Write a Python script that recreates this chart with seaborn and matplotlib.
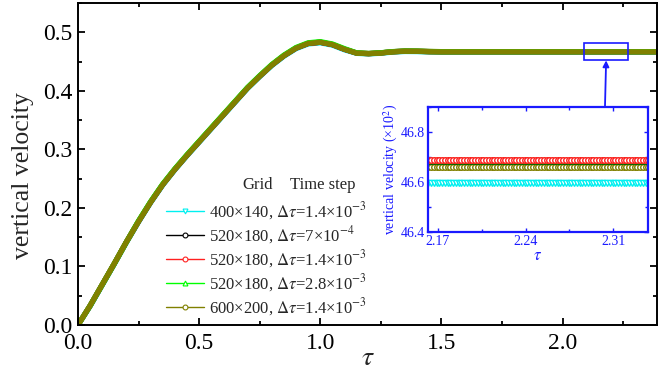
import numpy as np
import pandas as pd
import matplotlib
matplotlib.use("Agg")
import matplotlib.pyplot as plt
from matplotlib.lines import Line2D
from matplotlib.patches import Rectangle
from matplotlib.ticker import MultipleLocator
import seaborn as sns

sns.set_theme(style="ticks")
plt.rcParams["font.family"] = ["Liberation Serif", "DejaVu Serif"]
plt.rcParams["mathtext.fontset"] = "stix"

# ---- data: vertical velocity of the droplet centroid versus time tau ----
tau = [0.00, 0.05, 0.10, 0.15, 0.20, 0.25, 0.30, 0.35, 0.40, 0.45, 0.50,
       0.55, 0.60, 0.65, 0.70, 0.75, 0.80, 0.85, 0.90, 0.95, 1.00, 1.05,
       1.10, 1.15, 1.20, 1.25, 1.30, 1.35, 1.40, 1.45, 1.50, 1.70, 1.90,
       2.10, 2.30, 2.39]

vel_400x140_dt14 = [0.000, 0.032, 0.068, 0.104, 0.141, 0.176, 0.209, 0.239, 0.265,
                    0.289, 0.312, 0.335, 0.358, 0.381, 0.404, 0.424, 0.443, 0.459,
                    0.472, 0.480, 0.482, 0.478, 0.470, 0.4640, 0.4630, 0.4642, 0.4662,
                    0.4672, 0.4670, 0.4664, 0.4660, 0.4660, 0.4660, 0.4660, 0.4660, 0.4660]
vel_520x180_dt07 = [0.000, 0.033, 0.069, 0.105, 0.142, 0.177, 0.210, 0.240, 0.266,
                    0.290, 0.313, 0.336, 0.359, 0.382, 0.405, 0.425, 0.444, 0.460,
                    0.473, 0.481, 0.483, 0.479, 0.471, 0.4645, 0.4636, 0.4648, 0.4668,
                    0.4678, 0.4676, 0.4670, 0.4668, 0.4668, 0.4668, 0.4668, 0.4668, 0.4668]
vel_520x180_dt14 = [0.000, 0.033, 0.069, 0.105, 0.142, 0.177, 0.210, 0.240, 0.266,
                    0.290, 0.313, 0.336, 0.359, 0.382, 0.405, 0.425, 0.444, 0.460,
                    0.473, 0.481, 0.483, 0.479, 0.471, 0.4645, 0.4636, 0.4648, 0.4668,
                    0.4678, 0.4677, 0.4671, 0.4669, 0.4669, 0.4669, 0.4669, 0.4669, 0.4669]
vel_520x180_dt28 = [0.000, 0.033, 0.069, 0.105, 0.142, 0.178, 0.211, 0.241, 0.267,
                    0.291, 0.314, 0.337, 0.360, 0.383, 0.406, 0.426, 0.445, 0.461,
                    0.474, 0.482, 0.484, 0.480, 0.472, 0.4648, 0.4638, 0.4650, 0.4670,
                    0.4679, 0.4678, 0.4672, 0.4669, 0.4669, 0.4669, 0.4669, 0.4669, 0.4669]
vel_600x200_dt14 = [0.000, 0.033, 0.069, 0.105, 0.142, 0.177, 0.210, 0.240, 0.266,
                    0.290, 0.313, 0.336, 0.359, 0.382, 0.405, 0.425, 0.444, 0.460,
                    0.473, 0.481, 0.483, 0.479, 0.471, 0.4644, 0.4634, 0.4646, 0.4666,
                    0.4676, 0.4674, 0.4668, 0.4666, 0.4666, 0.4666, 0.4666, 0.4666, 0.4666]

# plateau levels in the zoomed window (x 10^-2)
zoom_levels = [46.598, 46.683, 46.688, 46.690, 46.660]

grid_labels = ["400\u00d7140", "520\u00d7180", "520\u00d7180", "520\u00d7180", "600\u00d7200"]
step_labels = ["1.4\u00d710$^{-3}$", "7\u00d710$^{-4}$", "1.4\u00d710$^{-3}$",
               "2.8\u00d710$^{-3}$", "1.4\u00d710$^{-3}$"]

series = [vel_400x140_dt14, vel_520x180_dt07, vel_520x180_dt14,
          vel_520x180_dt28, vel_600x200_dt14]
colors = ["#00F0F0", "#000000", "#FF2020", "#00FF00", "#808000"]
markers = ["v", "o", "o", "^", "o"]

# ---- figure ----
fig = plt.figure(figsize=(6.58, 3.85), dpi=100)
ax = fig.add_axes([78 / 658, 1 - 325 / 385, 579 / 658, 322 / 385])

for vals, c in zip(series, colors):
    df = pd.DataFrame({"tau": tau, "v": vals})
    sns.lineplot(data=df, x="tau", y="v", color=c, linewidth=3.8,
                 sort=False, legend=False, ax=ax)

ax.set_xlim(0, 2.39)
ax.set_ylim(0, 0.55)
ax.xaxis.set_major_locator(MultipleLocator(0.5))
ax.xaxis.set_minor_locator(MultipleLocator(0.25))
ax.yaxis.set_major_locator(MultipleLocator(0.1))
ax.yaxis.set_minor_locator(MultipleLocator(0.05))
ax.tick_params(which="both", direction="in", top=True, right=True,
               labelsize=17, colors="black", width=1.3)
ax.tick_params(which="major", length=5)
ax.tick_params(axis="x", which="major", pad=6)
ax.tick_params(axis="y", which="major", pad=4)
ax.tick_params(which="minor", length=3)
for s in ax.spines.values():
    s.set_linewidth(1.4)
    s.set_color("black")
ax.set_xlabel(r"$\tau$", fontsize=20, labelpad=-6)
ax.set_ylabel("vertical velocity", fontsize=18.5)
ax.yaxis.set_label_coords(-0.076, 0.463)

# legend of the five runs, with a two-column header above it
handles = [Line2D([0], [0], color=c, lw=1.0, marker=m, markersize=3.5,
                  markerfacecolor="white", markeredgewidth=0.8)
           for c, m in zip(colors, markers)]
texts = [f"{g}, $\\Delta\\tau$={s}" for g, s in zip(grid_labels, step_labels)]
ax.legend(handles, texts, loc="lower left",
          bbox_to_anchor=(0.14, 0.001), frameon=False, fontsize=12,
          handlelength=2.3, handletextpad=0.3, labelspacing=0.14,
          borderaxespad=0.0)
fig.text(258 / 658, 1 - 185 / 385, "Grid", ha="center", va="center", fontsize=12)
fig.text(323 / 658, 1 - 185 / 385, "Time step", ha="center", va="center", fontsize=12)

# marked window and arrow to the zoom panel
blue = "#1a1aff"
ax.add_patch(Rectangle((2.09, 0.452), 0.18, 0.029, fill=False,
                       edgecolor=blue, linewidth=1.2, zorder=5))
ax.annotate("", xy=(2.18, 0.452), xycoords="data",
            xytext=(605 / 658, 1 - 106 / 385), textcoords="figure fraction",
            arrowprops=dict(arrowstyle="-|>", color=blue, lw=1.3,
                            mutation_scale=9, shrinkA=0, shrinkB=0))

# ---- zoom panel ----
axin = fig.add_axes([428 / 658, 1 - 232 / 385, 220 / 658, 125 / 385])
tz = np.arange(2.160, 2.341, 0.0022)
order = [0, 4, 1, 3, 2]
for i in order:
    dfz = pd.DataFrame({"tau": tz, "v": np.full(tz.shape, zoom_levels[i])})
    sns.lineplot(data=dfz, x="tau", y="v", color=colors[i], linewidth=1.0,
                 marker=markers[i], markersize=4.0, markerfacecolor="white",
                 markeredgecolor=colors[i], markeredgewidth=1.0,
                 sort=False, legend=False, ax=axin)
axin.set_xlim(2.162, 2.338)
axin.set_ylim(46.4, 46.9)
axin.set_xticks([2.17, 2.24, 2.31])
axin.set_yticks([46.4, 46.6, 46.8])
axin.xaxis.set_minor_locator(MultipleLocator(0.035))
axin.yaxis.set_minor_locator(MultipleLocator(0.1))
axin.tick_params(which="both", direction="in", top=True, right=True,
                 labelsize=10, colors=blue, width=1.0, pad=2)
axin.tick_params(which="major", length=3)
axin.tick_params(which="minor", length=2)
for s in axin.spines.values():
    s.set_linewidth(1.6)
    s.set_color(blue)
axin.set_facecolor("white")
axin.set_xlabel(r"$\tau$", fontsize=12, color=blue, labelpad=0)
axin.set_ylabel("vertical velocity (\u00d710$^2$)", fontsize=10, color=blue,
                labelpad=1)

fig.savefig("out.png", dpi=100)
